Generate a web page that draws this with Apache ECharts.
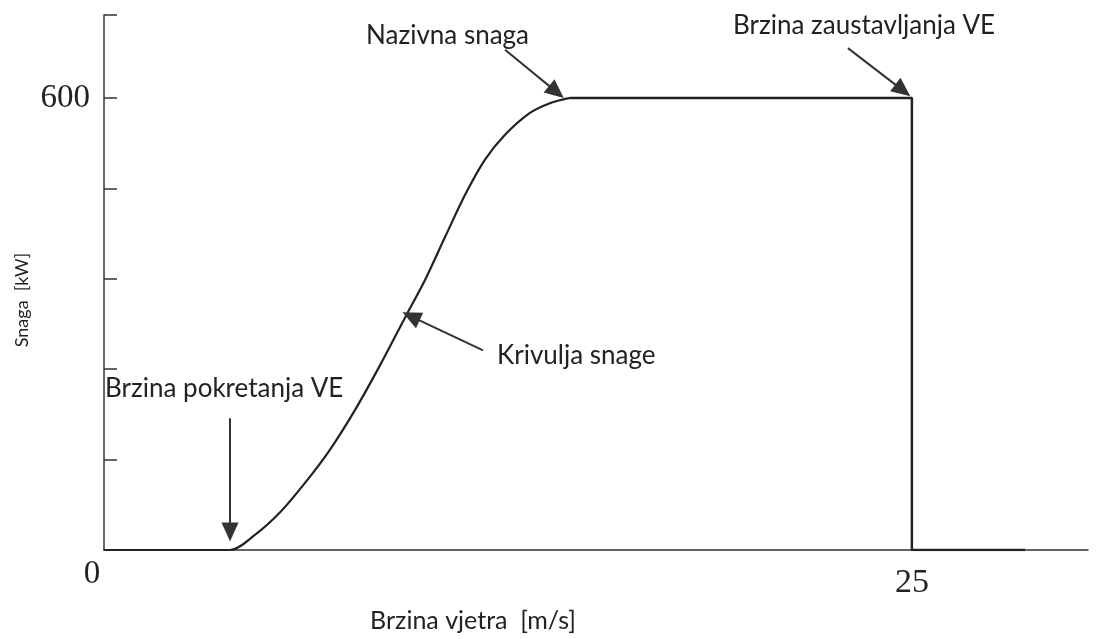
<!DOCTYPE html>
<html>
<head>
<meta charset="utf-8">
<script src="https://cdn.jsdelivr.net/npm/echarts@6/dist/echarts.min.js"></script>
<style>
  html, body { margin: 0; padding: 0; background: #fff; }
  #chart { width: 1103px; height: 639px; }
</style>
</head>
<body>
<div id="chart"></div>
<script>
// brzina vjetra [m/s] i snaga [kW] očitane sa slike
const windSpeed = [0, 3.9, 4.67, 5.45, 6.22, 6.99, 7.77, 8.54, 9.31, 9.93, 10.55, 11.17, 11.79, 12.41, 13.18, 13.8, 14.42]
const power     = [0, 0,   20,   50,   89,   133,  186,  245,  308,  358,  415,   471,   518,   551,   580,   593,  600]

// nazivna snaga do brzine zaustavljanja, zatim pad na nulu
const cutoutSpeed = [14.42, 25, 25, 28.5]
const cutoutPower = [600, 600, 0, 0]

const xTickLabels = { 0: '0', 25: '25' }
const yTickLabels = { 600: '600' }

// strelice: [početak, vrh] u koordinatama podataka
const arrows = [
  [[3.9, 175], [3.9, 24]],
  [[11.73, 265], [9.5, 310]],
  [[12.41, 664], [14.0, 608]],
  [[23.02, 666], [24.72, 610]]
]

const notes = [
  { text: 'Brzina pokretanja VE', x: 105, y: 389 },
  { text: 'Krivulja snage', x: 497, y: 356 },
  { text: 'Nazivna snaga', x: 366, y: 36 },
  { text: 'Brzina zaustavljanja VE', x: 733, y: 26 }
]

const chart = echarts.init(document.getElementById('chart'))

const lineColor = '#222'
const textFont = '26px Lato'

const option = {
  animation: false,
  grid: { left: 104, right: 15, top: 15, bottom: 89, containLabel: false, outerBoundsMode: 'none' },
  xAxis: {
    type: 'value',
    min: 0,
    max: 30.45,
    interval: 5,
    splitLine: { show: false },
    axisTick: { show: false },
    axisLine: { onZero: false, lineStyle: { color: '#333', width: 1.5 } },
    axisLabel: {
      margin: 8,
      color: '#222',
      fontFamily: 'Liberation Serif',
      fontSize: 33,
      showMinLabel: true,
      showMaxLabel: false,
      formatter: v => {
        if (v === 0) return '{a|0}'
        if (xTickLabels[v]) return '{b|' + xTickLabels[v] + '}'
        return ''
      },
      rich: {
        a: { fontFamily: 'Liberation Serif', fontSize: 33, color: '#222', padding: [0, 24, 0, 0] },
        b: { fontFamily: 'Liberation Serif', fontSize: 34, color: '#222', padding: [8, 0, 0, 0] }
      }
    }
  },
  yAxis: {
    type: 'value',
    min: 0,
    max: 710,
    interval: 120,
    splitLine: { show: false },
    axisLine: { show: true, lineStyle: { color: '#333', width: 1.5 } },
    axisTick: { show: true, inside: true, length: 13, lineStyle: { color: '#333', width: 1.5 } },
    axisLabel: {
      margin: 14,
      color: '#222',
      fontFamily: 'Liberation Serif',
      fontSize: 33,
      formatter: v => yTickLabels[v] || ''
    }
  },
  series: [
    {
      type: 'line',
      data: windSpeed.map((x, i) => [x, power[i]]),
      smooth: 0.3,
      showSymbol: false,
      lineStyle: { color: lineColor, width: 2.2 },
      markLine: {
        silent: true,
        symbol: ['none', 'triangle'],
        symbolSize: [17, 19],
        label: { show: false },
        lineStyle: { color: '#333', width: 2, type: 'solid' },
        data: arrows.map(a => [{ coord: a[0] }, { coord: a[1] }])
      }
    },
    {
      type: 'line',
      data: cutoutSpeed.map((x, i) => [x, cutoutPower[i]]),
      showSymbol: false,
      lineStyle: { color: lineColor, width: 2.5 }
    }
  ],
  graphic: [
    ...notes.map(n => ({
      type: 'text',
      x: n.x,
      y: n.y,
      style: { text: n.text, font: textFont, fill: '#222', verticalAlign: 'middle', align: 'left' }
    })),
    {
      type: 'text',
      x: 473,
      y: 621,
      style: { text: 'Brzina vjetra  [m/s]', font: '25px Lato', fill: '#222', align: 'center', verticalAlign: 'middle' }
    },
    {
      type: 'text',
      x: 22,
      y: 300,
      rotation: Math.PI / 2,
      style: { text: 'Snaga  [kW]', font: '18px Lato', fill: '#222', align: 'center', verticalAlign: 'middle' }
    }
  ]
}

chart.setOption(option)
</script>
</body>
</html>
